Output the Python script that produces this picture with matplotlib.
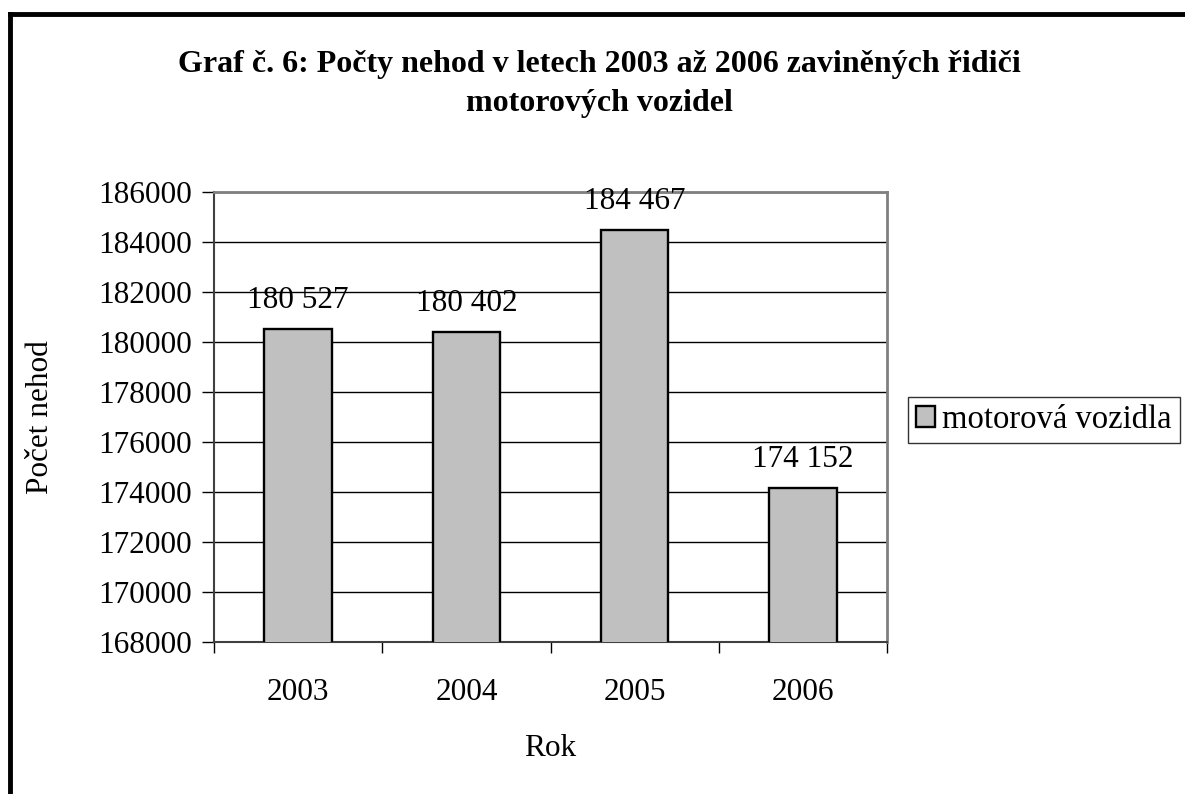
import matplotlib.pyplot as plt
from matplotlib.lines import Line2D

roky = ['2003', '2004', '2005', '2006']
nehody = [180527, 180402, 184467, 174152]
popisky = ['180 527', '180 402', '184 467', '174 152']
yticks = list(range(168000, 186001, 2000))

plt.rcParams['font.family'] = ['Liberation Serif', 'DejaVu Serif']
fs = 22.5

fig = plt.figure(figsize=(11.85, 7.94), dpi=100)
ax = fig.add_axes([0.1806, 0.1914, 0.5680, 0.5668])

x = list(range(len(roky)))
ax.bar(x, nehody, width=0.4, bottom=0, color='#c0c0c0', edgecolor='black',
       linewidth=1.7, zorder=3, label='motorová vozidla')

for xi, v, t in zip(x, nehody, popisky):
    ax.annotate(t, (xi, v), xytext=(0, 10), textcoords='offset points',
                ha='center', va='bottom', fontsize=fs)

ax.set_xlim(-0.5, len(roky) - 0.5)
ax.set_ylim(168000, 186000)
ax.set_yticks(yticks)
ax.set_yticklabels([str(t) for t in yticks], fontsize=fs)
ax.yaxis.grid(True, color='black', linewidth=1, zorder=0)

# kategorie jsou popsány uprostřed, značky jsou na hranicích
ax.set_xticks(x)
ax.set_xticklabels(roky, fontsize=fs)
ax.tick_params(axis='x', length=0, pad=26)
ax.set_xticks([i - 0.5 for i in range(len(roky) + 1)], minor=True)
ax.tick_params(axis='x', which='minor', length=8, width=1, color='black', direction='out')
ax.tick_params(axis='y', length=9, width=1, direction='out', pad=7)

for s in ['top', 'right']:
    ax.spines[s].set_color('#808080')
    ax.spines[s].set_linewidth(2)
for s in ['left', 'bottom']:
    ax.spines[s].set_color('#404040')
    ax.spines[s].set_linewidth(1.5)

ax.set_xlabel('Rok', fontsize=fs, labelpad=19)
ax.set_ylabel('Počet nehod', fontsize=fs, labelpad=31)

fig.text(0.506, 0.894, 'Graf č. 6: Počty nehod v letech 2003 až 2006 zaviněných řidiči\nmotorových vozidel',
         ha='center', va='center', fontsize=23, fontweight='bold', linespacing=1.45)

leg = ax.legend(loc='center left', bbox_to_anchor=(0.766, 0.471), bbox_transform=fig.transFigure,
                fontsize=23.5, frameon=True, fancybox=False, edgecolor='black',
                handlelength=0.6, handleheight=0.6, handletextpad=0.2, borderpad=0.25,
                borderaxespad=0)
leg.get_frame().set_linewidth(1)

# rámeček kolem grafu (vlevo a nahoře)
fig.add_artist(Line2D([0.0085, 0.0085], [0.0, 0.9825], color='black', linewidth=3.5,
                      transform=fig.transFigure))
fig.add_artist(Line2D([0.0085, 1.0], [0.9825, 0.9825], color='black', linewidth=3.5,
                      transform=fig.transFigure))

fig.savefig('out.png', dpi=100)
